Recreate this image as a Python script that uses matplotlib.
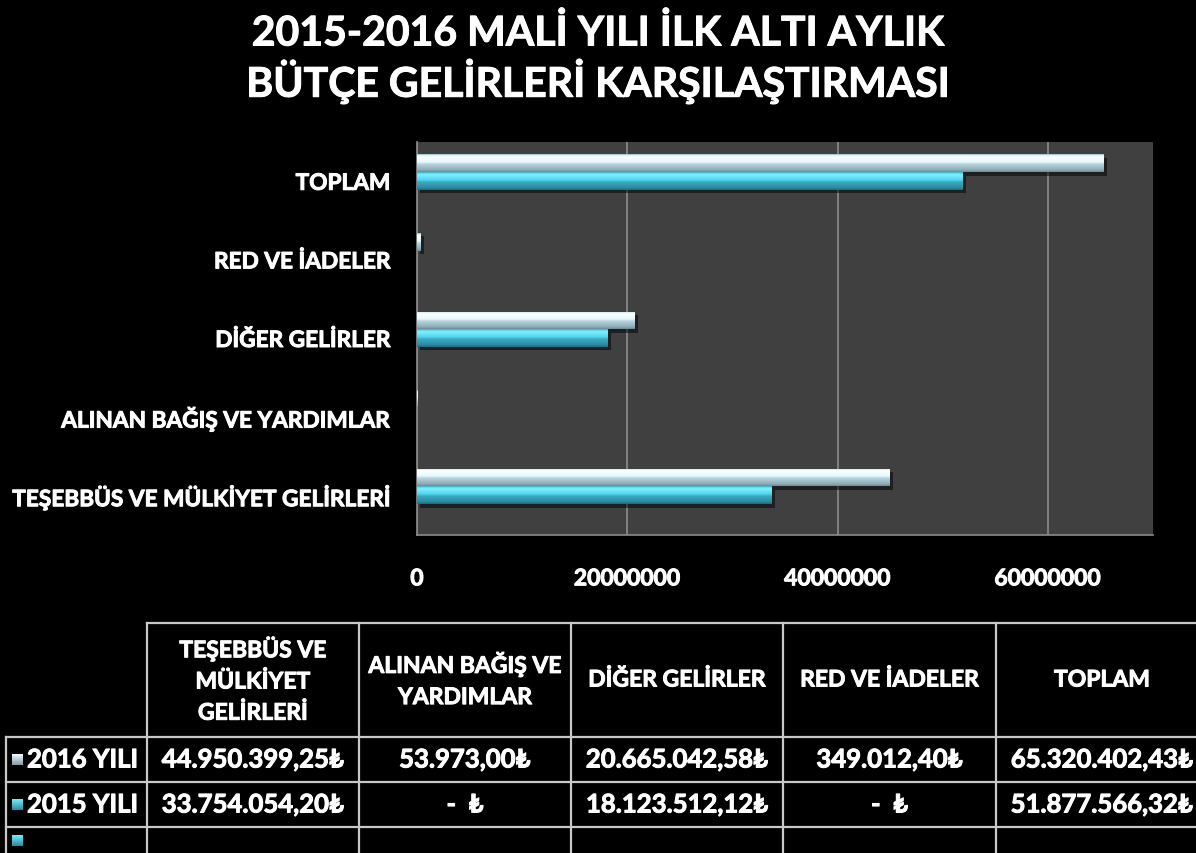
import numpy as np
import matplotlib
matplotlib.use("Agg")
import matplotlib.pyplot as plt
from matplotlib.colors import LinearSegmentedColormap
import matplotlib.patheffects as pe

plt.rcParams['font.family'] = ['Lato', 'DejaVu Sans']

title_lines = ["2015-2016 MALİ YILI İLK ALTI AYLIK", "BÜTÇE GELİRLERİ KARŞILAŞTIRMASI"]
categories = ["TEŞEBBÜS VE MÜLKİYET GELİRLERİ", "ALINAN BAĞIŞ VE YARDIMLAR",
              "DİĞER GELİRLER", "RED VE İADELER", "TOPLAM"]
header_labels = ["TEŞEBBÜS VE\nMÜLKİYET\nGELİRLERİ", "ALINAN BAĞIŞ VE\nYARDIMLAR",
                 "DİĞER GELİRLER", "RED VE İADELER", "TOPLAM"]
series_names = ["2016 YILI", "2015 YILI"]
values_2016 = [44950399.25, 53973.00, 20665042.58, 349012.40, 65320402.43]
values_2015 = [33754054.20, 0.0, 18123512.12, 0.0, 51877566.32]
xticks = [0, 20000000, 40000000, 60000000]

W, H = 1196, 854
WT = 'bold'
thick = [pe.withStroke(linewidth=0.7, foreground='white')]
fig = plt.figure(figsize=(W / 100, H / 100), dpi=100, facecolor='black')

# ---------- title ----------
fig.text(0.5, 1 - 35 / H, title_lines[0], ha='center', va='center', color='white',
         fontsize=29.5, fontweight='bold', path_effects=thick)
fig.text(0.5, 1 - 83 / H, title_lines[1], ha='center', va='center', color='white',
         fontsize=29.5, fontweight='bold', path_effects=thick)

# ---------- bar chart ----------
left, right, top, bottom = 417, 1153, 143, 536
ax = fig.add_axes([left / W, 1 - bottom / H, (right - left) / W, (bottom - top) / H])
ax.set_facecolor('#404040')
ax.set_xlim(0, 70000000)
ax.set_ylim(-0.5, len(categories) - 0.5)

y = np.arange(len(categories))
h = 0.225
cmap16 = LinearSegmentedColormap.from_list('c16', [
    (0.0, '#6f8c96'), (0.12, '#8fadb8'), (0.45, '#b8d6df'),
    (0.55, '#e6f9fd'), (0.85, '#fbffff'), (0.93, '#dff5fa'), (1.0, '#9ab8c2')])
cmap15 = LinearSegmentedColormap.from_list('c15', [
    (0.0, '#1f6a7c'), (0.12, '#2d8aa0'), (0.45, '#3aaac2'),
    (0.55, '#52d2ea'), (0.85, '#78f2ff'), (0.93, '#62e0f4'), (1.0, '#3aa8c0')])

grad = np.linspace(0, 1, 64).reshape(-1, 1)
shadow = [pe.SimplePatchShadow(offset=(2.5, -2.5), shadow_rgbFace='black', alpha=0.5), pe.Normal()]
for vals, off, cmap in [(values_2016, 0.23, cmap16), (values_2015, 0.005, cmap15)]:
    bars = ax.barh(y + off, vals, height=h, color=cmap(0.6), edgecolor='none', zorder=3)
    for b in bars:
        bx, by, bw, bh = b.get_x(), b.get_y(), b.get_width(), b.get_height()
        if bw <= 0:
            continue
        if bw > 200000:
            b.set_path_effects(shadow)
        im = ax.imshow(grad, extent=[bx, bx + bw, by, by + bh], origin='lower',
                       aspect='auto', cmap=cmap, zorder=4, interpolation='bilinear')
        im.set_clip_path(b)

ax.set_xticks(xticks)
ax.set_xticklabels([str(v) for v in xticks])
ax.set_yticks(y)
ax.set_yticklabels(categories)
ax.tick_params(axis='x', length=0, pad=24, colors='white', labelsize=16.5)
ax.tick_params(axis='y', length=0, pad=19, colors='white', labelsize=16.3)
for lab in ax.get_xticklabels() + ax.get_yticklabels():
    lab.set_fontweight(WT)
    lab.set_path_effects(thick)
ax.grid(axis='x', color='#8c8c8c', lw=1.2, zorder=1)
ax.set_axisbelow(True)
for s in ['top', 'right']:
    ax.spines[s].set_visible(False)
for s in ['left', 'bottom']:
    ax.spines[s].set_color('#8c8c8c')
    ax.spines[s].set_linewidth(1.2)

# ---------- data table ----------
tb = fig.add_axes([0, 0, 1, 1], facecolor='none')
tb.set_xlim(0, W)
tb.set_ylim(H, 0)
tb.axis('off')

col_x = [147, 359, 571, 783, 996, 1208]
row_y = [624, 738, 783, 828, 873]
lbl_left = 6
lc = '#c8c8c8'
lw = 1.6
tb.plot([col_x[0], W], [row_y[0]] * 2, color=lc, lw=lw)
for ry in row_y[1:4]:
    tb.plot([lbl_left, W], [ry, ry], color=lc, lw=lw)
for cx in col_x[:-1]:
    tb.plot([cx, cx], [row_y[0], H], color=lc, lw=lw)
tb.plot([lbl_left, lbl_left], [row_y[1], H], color=lc, lw=lw)


def tr_fmt(v):
    if v == 0:
        return "-  \u20ba"
    s = f"{v:,.2f}"
    s = s.replace(',', 'X').replace('.', ',').replace('X', '.')
    return s + "\u20ba"


for i, lab in enumerate(header_labels):
    cx = (col_x[i] + col_x[i + 1]) / 2
    tb.text(cx, (row_y[0] + row_y[1]) / 2, lab, ha='center', va='center', color='white',
            fontsize=16.5, fontweight=WT, linespacing=1.6, path_effects=thick)

row_vals = [values_2016, values_2015]
marker_cols = [('#f0fcff', '#7f9ca8'), ('#70eeff', '#2a8aa0'), ('#70eeff', '#2a8aa0')]
row_labels = series_names + [""]
for r in range(3):
    yc = (row_y[r + 1] + row_y[r + 2]) / 2
    mc = LinearSegmentedColormap.from_list('m', [marker_cols[r][1], marker_cols[r][0]])
    my = yc if r < 2 else row_y[3] + 14
    tb.imshow(grad, extent=[12, 23, my + 5.5, my - 5.5], origin='lower', aspect='auto',
              cmap=mc, zorder=3, interpolation='bilinear')
    tb.text(27, yc, row_labels[r], ha='left', va='center', color='white',
            fontsize=18.5, fontweight=WT, path_effects=thick)
    if r < 2:
        for i, v in enumerate(row_vals[r]):
            cx = (col_x[i] + col_x[i + 1]) / 2
            tb.text(cx, yc, tr_fmt(v), ha='center', va='center', color='white',
                    fontsize=18.5, fontweight=WT, path_effects=thick)
tb.set_xlim(0, W)
tb.set_ylim(H, 0)

fig.savefig('out.png', dpi=100, facecolor='black')
